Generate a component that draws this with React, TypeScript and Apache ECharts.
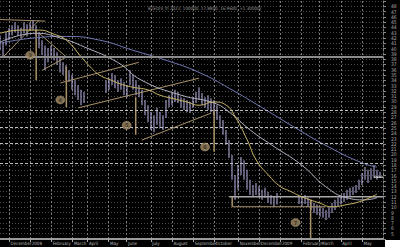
import React, { useEffect, useRef } from 'react';
import * as echarts from 'echarts';

const titleText = 'BTEQ(V,Y) 2022, 100000, 17.8800, 16.9600, +1.30000)';

const monthLabels = ['November', 'December', '2008', 'February', 'March', 'April', 'May', 'June', 'July', 'August', 'September', 'October', 'November', 'December', '2009', 'February', 'March', 'April', 'May'];
const samplesPerMonth = [3, 7, 7, 7, 5, 7, 6, 8, 7, 7, 7, 8, 7, 7, 7, 6, 7, 7, 8];

const highs = [
  42.5, 41.2, 43.1, 43.9, 44.4, 45.0, 44.4, 43.9, 45.0, 44.6,
  45.0, 45.4, 44.4, 43.1, 41.6, 40.6, 40.1, 40.6, 40.1, 39.3,
  38.2, 37.4, 36.9, 35.9, 35.0, 34.0, 33.1, 32.2, 31.8, 33.1,
  34.4, 35.0, 33.1, 32.2, 32.5, 34.0, 34.4, 35.4, 35.0, 34.0,
  34.4, 33.7, 33.1, 35.9, 35.0, 34.0, 33.1, 32.2, 30.3, 29.3,
  28.0, 27.4, 28.8, 28.0, 27.4, 30.3, 31.2, 31.6, 32.2, 31.8,
  30.8, 30.6, 30.3, 29.9, 30.8, 31.8, 32.7, 31.6, 30.8, 31.2,
  30.6, 30.3, 29.3, 27.4, 26.5, 24.6, 22.7, 19.9, 16.1, 18.0,
  19.5, 18.9, 17.1, 15.2, 14.2, 14.6, 13.9, 13.3, 13.7, 12.9,
  12.3, 12.0, 12.7, 13.7, 13.3, 12.7, 12.2, 11.8, 12.0, 12.2,
  12.0, 12.3, 11.8, 11.4, 10.8, 10.5, 10.1, 9.9, 9.5, 10.1,
  10.8, 11.4, 11.8, 12.3, 12.7, 13.3, 13.7, 13.9, 14.2, 15.2,
  16.5, 17.6, 17.1, 17.4, 18.0, 17.1, 16.7,
];
const lows = [
  39.7, 38.4, 40.6, 41.6, 42.5, 43.1, 42.5, 42.0, 42.9, 42.3,
  43.5, 43.5, 42.5, 40.1, 38.8, 35.9, 37.4, 38.2, 37.8, 36.9,
  35.5, 35.0, 34.0, 33.7, 32.2, 31.2, 30.3, 29.3, 29.7, 30.6,
  31.8, 32.5, 30.3, 29.7, 30.3, 31.6, 32.2, 33.1, 32.5, 31.8,
  32.2, 31.2, 30.8, 33.1, 32.2, 31.2, 30.8, 29.3, 27.4, 26.1,
  24.6, 24.2, 25.6, 25.0, 24.6, 26.9, 28.9, 29.3, 29.9, 29.7,
  28.8, 28.4, 28.0, 27.8, 28.8, 29.7, 30.3, 29.3, 28.8, 28.4,
  28.0, 27.4, 26.5, 25.0, 23.7, 21.8, 19.3, 15.2, 11.4, 13.3,
  16.1, 15.2, 13.3, 12.3, 12.0, 12.3, 12.0, 11.4, 11.8, 10.8,
  10.5, 10.1, 10.5, 11.4, 11.4, 11.0, 10.5, 10.1, 10.5, 10.6,
  10.3, 10.6, 10.1, 9.5, 8.9, 8.6, 8.2, 8.0, 7.6, 8.0,
  8.9, 9.5, 10.1, 10.5, 11.0, 11.4, 12.0, 12.3, 12.7, 13.3,
  14.2, 15.2, 14.6, 15.2, 15.6, 15.2, 15.6,
];

const maFast = [
  [0, 42.9], [7, 43.5], [13, 43.5], [18, 42.7], [22, 41.6], [27, 38.4], [30, 36.5], [33, 35.0],
  [37, 34.0], [40, 33.3], [44, 32.7], [49, 32.2], [53, 31.2], [57, 30.6], [62, 29.9], [66, 29.3],
  [71, 29.9], [75, 29.3], [78, 27.1], [82, 22.7], [85, 18.9], [89, 16.1], [93, 13.9], [96, 13.1],
  [100, 12.0], [106, 10.8], [110, 10.1], [115, 10.5], [120, 11.2], [125, 12.5],
];
const maMid = [
  [0, 41.2], [12, 42.9], [20, 42.0], [28, 40.3], [39, 37.4], [47, 34.0], [60, 31.2], [71, 29.7],
  [76, 28.0], [83, 24.6], [90, 21.8], [100, 18.0], [108, 13.9], [115, 11.8], [121, 11.4], [125, 11.8],
];
const maSlow = [
  [0, 41.0], [11, 42.0], [22, 42.3], [33, 41.6], [44, 39.7], [55, 37.8], [66, 35.5], [76, 32.5],
  [87, 28.8], [98, 25.0], [109, 21.4], [120, 18.4], [125, 17.6],
];

const trendLines = [
  [[0, 45.5], [15, 45.2]],
  [[1, 38.4], [13, 45.4]],
  [[13, 42.9], [22, 38.4]],
  [[14, 35.9], [22, 38.4]],
  [[20, 33.5], [46, 37.4]],
  [[26, 28.8], [66, 34.4]],
  [[47, 22.7], [70, 27.8]],
  [[77, 10.1], [108, 10.1]],
];
const markerStems = [
  [[12, 43.5], [12, 34.0]],
  [[22, 36.5], [22, 28.9]],
  [[45, 30.8], [45, 23.7]],
  [[71, 28.4], [71, 20.5]],
  [[77, 12.0], [77, 10.1]],
  [[103, 11.4], [103, 4.2]],
];
const supportLines = [[[76, 12.0], [127, 12.0]]];
const lastPriceLine = [[124, 15.7], [127, 15.7]];

const strongLevels = [38.4];
const dashedLevels = [28.4, 25.2, 22.15, 18.4];

const waveMarkers = [
  [10, 38.75, '3'],
  [20, 30.3, '4'],
  [42, 25.5, '5'],
  [68, 21.4, '6'],
  [98, 7.1, '7'],
];

const categories: string[] = [];
monthLabels.forEach((m, mi) => {
  for (let k = 0; k < samplesPerMonth[mi]; k++) categories.push(`${mi}:${k}`);
});
const isMonthStart = (idx: number, val: string) => idx > 0 && String(val).endsWith(':0');

const FONT = 'DejaVu Sans';
const NARROW = "'Liberation Sans Narrow', 'DejaVu Sans Condensed', sans-serif";
const TAN = '#a8926a';

function buildOption() {
  const segSeries = (segs: number[][][], color: string, width: number, type: any = 'solid') =>
    segs.map((s) => ({
      type: 'line',
      data: s,
      showSymbol: false,
      symbol: 'none',
      silent: true,
      lineStyle: { color, width, type },
      z: 3,
    }));

  return {
    animation: false,
    backgroundColor: '#000',
    title: {
      text: titleText,
      left: 143,
      top: 1,
      textStyle: { color: '#9a9a9a', fontSize: 4.5, fontWeight: 'normal', fontFamily: NARROW },
    },
    grid: { left: 0, right: 17, top: 1, bottom: 8 },
    xAxis: {
      type: 'category',
      data: categories,
      boundaryGap: false,
      axisLine: { lineStyle: { color: '#9a9a9a', width: 2 } },
      axisTick: { show: true, interval: isMonthStart, length: 3, lineStyle: { color: '#aaa' } },
      axisLabel: {
        interval: isMonthStart,
        hideOverlap: false,
        formatter: (v: string) => monthLabels[parseInt(v.split(':')[0], 10)],
        color: '#bbb',
        fontSize: 4.5,
        fontFamily: NARROW,
        align: 'left',
        margin: 2,
        padding: [0, 0, 0, 1.5],
      },
      splitLine: { show: true, interval: isMonthStart, lineStyle: { color: '#7a7a7a', type: [2, 2], width: 1 } },
    },
    yAxis: {
      type: 'value',
      position: 'right',
      min: 4,
      max: 49,
      interval: 1,
      axisLine: { show: true, lineStyle: { color: '#888', type: [2, 2] } },
      axisTick: { show: true, length: 3, lineStyle: { color: '#888' } },
      axisLabel: {
        color: '#aaa',
        fontSize: 5,
        fontFamily: NARROW,
        margin: 8,
        hideOverlap: false,
        formatter: (v: number) => (v >= 5 && v <= 48 ? String(v) : ''),
      },
      splitLine: { show: true, lineStyle: { color: '#4a4a4a', type: [1, 2] } },
    },
    graphic: [
      { type: 'rect', right: 0, bottom: 0, shape: { width: 15, height: 7 }, style: { fill: '#fff' } },
    ],
    series: [
      {
        type: 'candlestick',
        data: highs.map((h, i) => [lows[i], h, lows[i], h]),
        barWidth: 1.4,
        itemStyle: { color: '#bcb4e6', color0: '#bcb4e6', borderColor: '#bcb4e6', borderColor0: '#bcb4e6', borderWidth: 0 },
        z: 2,
        markLine: {
          symbol: 'none',
          silent: true,
          label: { show: false },
          data: [
            ...strongLevels.map((v) => ({ yAxis: v, lineStyle: { color: '#8c8c8c', width: 2, type: 'solid' } })),
            ...dashedLevels.map((v) => ({ yAxis: v, lineStyle: { color: '#bdbdbd', width: 1, type: [3, 2] } })),
          ],
        },
      },
      { type: 'line', data: maSlow, smooth: true, showSymbol: false, symbol: 'none', lineStyle: { color: '#7078b0', width: 1 }, z: 4 },
      { type: 'line', data: maMid, smooth: true, showSymbol: false, symbol: 'none', lineStyle: { color: '#b0b0c0', width: 1 }, z: 4 },
      { type: 'line', data: maFast, smooth: true, showSymbol: false, symbol: 'none', lineStyle: { color: '#cbb86a', width: 1 }, z: 4 },
      ...segSeries(trendLines as any, TAN, 1),
      ...segSeries(markerStems as any, TAN, 1.5),
      ...segSeries(supportLines as any, '#a8a8a8', 1.5),
      ...segSeries([lastPriceLine] as any, '#ffffff', 1),
      {
        type: 'scatter',
        data: waveMarkers,
        symbol: 'circle',
        symbolSize: [9, 8],
        itemStyle: { color: '#a08a64', borderColor: '#c8b48c', borderWidth: 0.5 },
        label: {
          show: true,
          position: 'inside',
          formatter: (p: any) => p.value[2],
          fontSize: 5,
          color: '#2a2418',
          fontWeight: 'bold',
          fontFamily: FONT,
        },
        z: 6,
      },
    ],
  };
}

export default function App() {
  const ref = useRef<HTMLDivElement>(null);
  useEffect(() => {
    const chart = echarts.init(ref.current!, undefined, { renderer: 'svg' });
    chart.setOption(buildOption() as any);
    return () => chart.dispose();
  }, []);
  return (
    <div
      ref={ref}
      style={{ position: 'fixed', left: 0, top: 0, width: 400, height: 247, background: '#000' }}
    />
  );
}
